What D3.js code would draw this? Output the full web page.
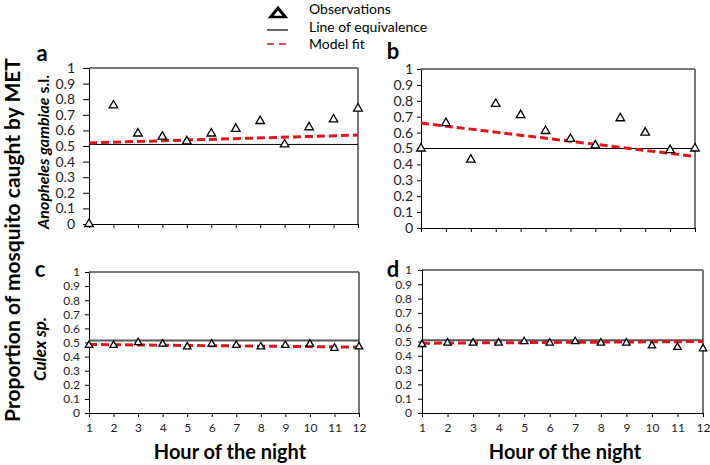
<!DOCTYPE html>
<html>
  <head>
    <script type="text/javascript" src="https://cdn.jsdelivr.net/npm/d3@7"></script>
    <style>
      body { margin: 0; background: #fff; }
      text { font-family: Lato, "Open Sans", sans-serif; fill: #000; }
      .tick text { fill: #222; }
    </style>
  </head>
  <body>
  <script type='text/javascript'>

    // hours 1..12 and the y tick values
    var hours = [1, 2, 3, 4, 5, 6, 7, 8, 9, 10, 11, 12];
    var yTicks = [0, 0.1, 0.2, 0.3, 0.4, 0.5, 0.6, 0.7, 0.8, 0.9, 1];

    // observations per panel
    var obsA = [0.00, 0.76, 0.58, 0.56, 0.53, 0.58, 0.61, 0.66, 0.51, 0.62, 0.67, 0.74];
    var obsB = [0.50, 0.66, 0.43, 0.78, 0.71, 0.61, 0.56, 0.52, 0.69, 0.60, 0.49, 0.50];
    var obsC = [0.48, 0.48, 0.50, 0.49, 0.47, 0.49, 0.48, 0.47, 0.48, 0.49, 0.46, 0.47];
    var obsD = [0.48, 0.49, 0.49, 0.49, 0.50, 0.49, 0.50, 0.49, 0.49, 0.47, 0.46, 0.45];

    // model fit at hour 1 and hour 12
    var fitA = [0.52, 0.57];
    var fitB = [0.66, 0.45];
    var fitC = [0.486, 0.467];
    var fitD = [0.488, 0.50];

    // line of equivalence
    var equivA = 0.51;
    var equivB = 0.50;
    var equivC = 0.515;
    var equivD = 0.508;

    var legendLabels = ["Observations", "Line of equivalence", "Model fit"];

    var W = 710, H = 465;
    var svg = d3.select("body").append("svg")
        .attr("width", W)
        .attr("height", H);

    var panels = [
      {letter: "a", obs: obsA, fit: fitA, eq: equivA, l: 89, r: 358, t: 68, b: 224,
       lx: 42, ly: 61, xlabels: false, fs: 14, tri: 32, eqW: 1, eqC: "#000", pad: 8, tsz: 6},
      {letter: "b", obs: obsB, fit: fitB, eq: equivB, l: 421, r: 695, t: 69, b: 228,
       lx: 393, ly: 59, xlabels: false, fs: 14, tri: 32, eqW: 1, eqC: "#000", pad: 4, tsz: 4},
      {letter: "c", obs: obsC, fit: fitC, eq: equivC, l: 89, r: 359, t: 272, b: 413,
       lx: 40, ly: 277, xlabels: true, fs: 12, tri: 24, eqW: 2, eqC: "#555", pad: 5, tsz: 4},
      {letter: "d", obs: obsD, fit: fitD, eq: equivD, l: 422, r: 703, t: 270, b: 413,
       lx: 393, ly: 277, xlabels: true, fs: 12, tri: 24, eqW: 2, eqC: "#555", pad: 6, tsz: 4}
    ];

    var tri = d3.symbol().type(d3.symbolTriangle);

    panels.forEach(function(p){
      var x = d3.scaleLinear().domain([1, 12]).range([p.l, p.r]);
      var y = d3.scaleLinear().domain([0, 1]).range([p.b, p.t]);
      var g = svg.append("g");

      // box: grey top/right
      g.append("line").attr("x1", p.l).attr("x2", p.r).attr("y1", p.t).attr("y2", p.t)
          .attr("stroke", "#777").attr("stroke-width", 2);
      g.append("line").attr("x1", p.r).attr("x2", p.r).attr("y1", p.t).attr("y2", p.b)
          .attr("stroke", "#777").attr("stroke-width", 2);

      var yAxis = d3.axisLeft(y).tickValues(yTicks)
          .tickFormat(d3.format("~g")).tickSize(p.tsz).tickSizeOuter(0).tickPadding(p.pad);
      var ya = g.append("g").attr("transform", "translate(" + p.l + ",0)").call(yAxis);
      ya.selectAll("text").style("font-size", p.fs + "px");

      var xAxis = d3.axisBottom(x).tickValues(hours).tickSize(4).tickSizeOuter(0).tickPadding(6);
      if (!p.xlabels) xAxis.tickFormat("");
      var xa = g.append("g").attr("transform", "translate(0," + p.b + ")").call(xAxis);
      xa.selectAll("text").style("font-size", p.fs + "px");

      // line of equivalence
      g.append("line").attr("x1", x(1)).attr("x2", x(12))
          .attr("y1", y(p.eq)).attr("y2", y(p.eq))
          .attr("stroke", p.eqC).attr("stroke-width", p.eqW);

      // model fit
      g.append("line").attr("x1", x(1)).attr("x2", x(12))
          .attr("y1", y(p.fit[0])).attr("y2", y(p.fit[1]))
          .attr("stroke", "#e0141b").attr("stroke-width", 3)
          .attr("stroke-dasharray", "8,4");

      // observations
      g.selectAll(".obs").data(p.obs).enter().append("path")
          .attr("d", tri.size(p.tri))
          .attr("transform", function(d, i){ return "translate(" + x(hours[i]) + "," + y(d) + ")"; })
          .attr("fill", "#fff").attr("stroke", "#000").attr("stroke-width", 1.3);

      svg.append("text").attr("x", p.lx).attr("y", p.ly)
          .attr("text-anchor", "middle")
          .style("font-size", "22px").style("font-weight", "bold")
          .text(p.letter);
    });

    // axis titles
    svg.append("text")
        .attr("transform", "translate(20,240) rotate(-90)")
        .attr("text-anchor", "middle")
        .style("font-size", "21px").style("font-weight", "bold")
        .text("Proportion of mosquito caught by MET");

    var t1 = svg.append("text")
        .attr("transform", "translate(49,152) rotate(-90)")
        .attr("text-anchor", "middle")
        .style("font-size", "16px").style("font-weight", "bold");
    t1.append("tspan").style("font-style", "italic").text("Anopheles gambiae");
    t1.append("tspan").text(" s.l.");

    svg.append("text")
        .attr("transform", "translate(46,349) rotate(-90)")
        .attr("text-anchor", "middle")
        .style("font-size", "17px").style("font-weight", "bold").style("font-style", "italic")
        .text("Culex sp.");

    svg.append("text").attr("x", 230).attr("y", 459)
        .attr("text-anchor", "middle")
        .style("font-size", "20px").style("font-weight", "bold")
        .text("Hour of the night");
    svg.append("text").attr("x", 565).attr("y", 459)
        .attr("text-anchor", "middle")
        .style("font-size", "20px").style("font-weight", "bold")
        .text("Hour of the night");

    // legend
    var lg = svg.append("g");
    lg.append("path").attr("d", d3.symbol().type(d3.symbolTriangle).size(70)())
        .attr("transform", "translate(278,14) scale(1.15,0.8)")
        .attr("fill", "#fff").attr("stroke", "#000").attr("stroke-width", 3);
    lg.append("line").attr("x1", 267).attr("x2", 288).attr("y1", 30).attr("y2", 30)
        .attr("stroke", "#000").attr("stroke-width", 1.2);
    lg.append("line").attr("x1", 267).attr("x2", 290).attr("y1", 44).attr("y2", 44)
        .attr("stroke", "#e0141b").attr("stroke-width", 1.5).attr("stroke-dasharray", "7,5");
    lg.selectAll(".lt").data(legendLabels).enter().append("text")
        .attr("x", 309)
        .attr("y", function(d, i){ return [9, 27, 44][i]; })
        .attr("dy", "0.35em")
        .style("font-size", "14px")
        .text(function(d){ return d; });

  </script>
  </body>
</html>
